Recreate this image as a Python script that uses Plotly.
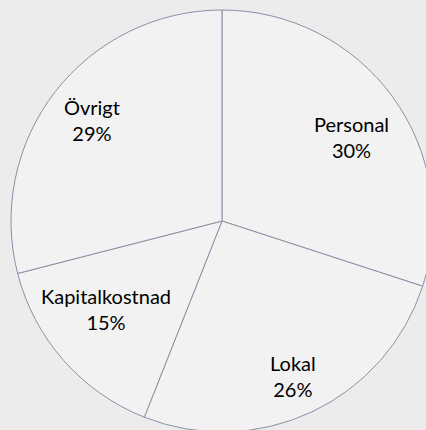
import math
import plotly.graph_objects as go

labels = ["Personal", "Lokal", "Kapitalkostnad", "Övrigt"]
values = [30, 26, 15, 29]

# label placement (fraction of radius) per slice
label_radius = [0.73, 0.81, 0.69, 0.78]
label_angle_shift = [3, 0.5, 4, 0]

W, H = 444, 442
ML, MR, MT, MB = 11, 11, 10, 10
PW, PH = W - ML - MR, H - MT - MB
R = min(PW, PH) / 2

fig = go.Figure(go.Pie(
    labels=labels,
    values=values,
    sort=False,
    direction="clockwise",
    rotation=0,
    textinfo="none",
    marker=dict(colors=["#f2f2f2"] * 4, line=dict(color="#8b90a6", width=1)),
    showlegend=False,
    hoverinfo="label+percent",
))

total = sum(values)
cum = 0
annotations = []
for lab, v, rf, sh in zip(labels, values, label_radius, label_angle_shift):
    mid = (cum + v / 2) / total * 360 + sh
    cum += v
    a = math.radians(mid)
    dx = rf * R * math.sin(a)
    dy = rf * R * math.cos(a)
    annotations.append(dict(
        x=0.5 + dx / PW, y=0.5 + dy / PH, xref="paper", yref="paper",
        text=f"{lab}<br>{round(v / total * 100)}%",
        showarrow=False, xanchor="center", yanchor="middle",
        font=dict(family="Lato", size=20, color="#000000"),
    ))

fig.update_layout(
    width=W, height=H,
    autosize=False,
    margin=dict(l=ML, r=MR, t=MT, b=MB),
    paper_bgcolor="#ebeceb",
    plot_bgcolor="#ebeceb",
    annotations=annotations,
)

fig.write_html(
    "out.html",
    config={"displayModeBar": False},
    post_script="document.body.style.margin='0';document.body.style.overflow='hidden';document.documentElement.style.overflow='hidden';",
)
